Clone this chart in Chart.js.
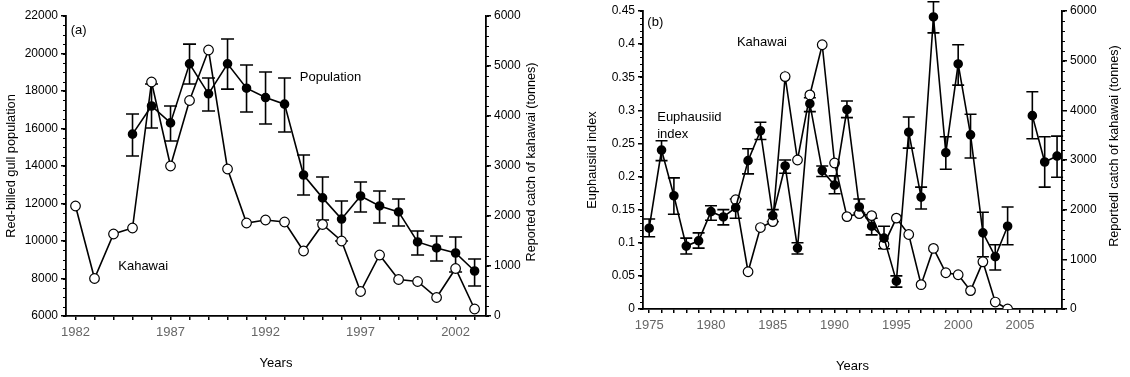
<!DOCTYPE html>
<html>
<head>
<meta charset="utf-8">
<script src="https://cdn.jsdelivr.net/npm/chart.js@4.4.1/dist/chart.umd.min.js"></script>
<style>
body{margin:0;background:#fff;}
#wrap{position:relative;width:1130px;height:377px;}
canvas{position:absolute;top:0;}
#chartA{left:0;}
#chartB{left:565px;}
</style>
</head>
<body>
<div id="wrap">
<canvas id="chartA" width="565" height="377"></canvas>
<canvas id="chartB" width="565" height="377"></canvas>
</div>
<script>
// panel (a): gull population with error bars + kahawai catch
const popYears = [1985,1986,1987,1988,1989,1990,1991,1992,1993,1994,1995,1996,1997,1998,1999,2000,2001,2002,2003];
const popValues = [15700,17200,16300,19450,17850,19450,18150,17650,17300,13520,12300,11170,12400,11870,11550,9950,9630,9360,8400];
const popHigh = [16770,18370,17200,20500,18690,20770,19390,19010,18690,14590,13410,12130,13150,12670,12240,10530,10270,10210,9040];
const popLow = [14530,16030,15330,18370,16930,18100,16880,16240,15810,12450,11120,10000,11550,10960,10800,9250,8930,8350,7600];

// kahawai catch (tonnes), shared by both panels
const kahawaiYears = [1982,1983,1984,1985,1986,1987,1988,1989,1990,1991,1992,1993,1994,1995,1996,1997,1998,1999,2000,2001,2002,2003,2004];
const kahawaiCatch = [2200,750,1640,1760,4680,3000,4310,5320,2940,1860,1920,1880,1300,1830,1500,490,1220,730,690,370,950,140,0];

// panel (b): euphausiid index with error bars
const euphYears = [1975,1976,1977,1978,1979,1980,1981,1982,1983,1984,1985,1986,1987,1988,1989,1990,1991,1992,1993,1994,1995,1996,1997,1998,1999,2000,2001,2002,2003,2004,2005,2006,2007,2008];
const euphIndex = [0.122,0.240,0.171,0.095,0.103,0.147,0.139,0.153,0.224,0.269,0.141,0.216,0.092,0.310,0.209,0.187,0.301,0.154,0.125,0.107,0.042,0.267,0.169,0.441,0.236,0.370,0.263,0.115,0.079,0.125,null,0.292,0.222,0.231];
const euphHigh = [0.136,0.254,0.198,0.107,0.115,0.156,0.150,0.166,0.242,0.282,0.150,0.225,0.100,0.319,0.216,0.201,0.314,0.166,0.137,0.125,0.050,0.290,0.184,0.464,0.260,0.399,0.294,0.146,0.097,0.154,null,0.328,0.260,0.261];
const euphLow = [0.109,0.224,0.143,0.083,0.092,0.134,0.127,0.137,0.204,0.256,0.132,0.205,0.083,0.298,0.200,0.174,0.289,0.145,0.112,0.091,0.033,0.243,0.151,0.417,0.211,0.338,0.228,0.079,0.059,0.097,null,0.257,0.184,0.199];

Chart.defaults.font.family = '"Liberation Sans", Arial, sans-serif';
Chart.defaults.color = '#000';

function toPoints(xs, ys){
    return xs.map((x,i) => ({x:x, y:ys[i]}));
}

// vertical error bars with caps, drawn under the lines
const errorBarPlugin = {
    id:'errorBars',
    beforeDatasetsDraw(chart){
        let ctx = chart.ctx;
        chart.data.datasets.forEach((ds,i) => {
            if(!ds.errLow){
                return;
            }
            let meta = chart.getDatasetMeta(i);
            let xs = chart.scales[meta.xAxisID];
            let ys = chart.scales[meta.yAxisID];
            let cap = ds.capHalf || 6;
            ctx.save();
            ctx.strokeStyle = '#000';
            ctx.lineWidth = 1.6;
            ds.data.forEach((pt,j) => {
                if(pt.y == null || ds.errLow[j] == null){
                    return;
                }
                let px = xs.getPixelForValue(pt.x);
                let top = ys.getPixelForValue(ds.errHigh[j]);
                let bot = ys.getPixelForValue(ds.errLow[j]);
                ctx.beginPath();
                ctx.moveTo(px,top); ctx.lineTo(px,bot);
                ctx.moveTo(px-cap,top); ctx.lineTo(px+cap,top);
                ctx.moveTo(px-cap,bot); ctx.lineTo(px+cap,bot);
                ctx.stroke();
            });
            ctx.restore();
        });
    }
};

function makeMinorTicks(list){
    return {
        id:'minorTicks',
        afterDraw(chart){
            let ctx = chart.ctx;
            ctx.save();
            ctx.strokeStyle = '#000';
            ctx.lineWidth = 1;
            for(let [id,step] of list){
                let s = chart.scales[id];
                let n = Math.round((s.max - s.min)/step);
                for(let k=0;k<=n;k++){
                    let py = Math.round(s.getPixelForValue(s.min + k*step)) + 0.5;
                    let x0 = s.position == 'left' ? s.right : s.left;
                    let dir = s.position == 'left' ? -1 : 1;
                    ctx.beginPath();
                    ctx.moveTo(x0,py);
                    ctx.lineTo(x0+dir*3,py);
                    ctx.stroke();
                }
            }
            ctx.restore();
        }
    };
}

// free text labels anchored to data coordinates, plus the right axis title
function makeLabels(list, rightTitle){
    return {
        id:'labels',
        afterDraw(chart){
            let ctx = chart.ctx;
            ctx.save();
            ctx.fillStyle = '#000';
            ctx.font = '13px "Liberation Sans", Arial, sans-serif';
            ctx.textBaseline = 'middle';
            ctx.textAlign = 'left';
            for(let lb of list){
                let px = chart.scales.x.getPixelForValue(lb.x);
                let py = chart.scales[lb.axis].getPixelForValue(lb.y);
                ctx.fillText(lb.text, px, py);
            }
            let s = chart.scales.y2;
            ctx.font = '12.6px "Liberation Sans", Arial, sans-serif';
            ctx.textAlign = 'center';
            ctx.translate(s.left + rightTitle.dx, (s.top + s.bottom)/2 + rightTitle.dy);
            ctx.rotate(-Math.PI/2);
            ctx.fillText(rightTitle.text, 0, 0);
            ctx.restore();
        }
    };
}

function axisX(min, max, first, fitH, titlePad){
    return {
        type:'linear', position:'bottom', min:min, max:max,
        afterFit: s => { s.height = fitH; },
        ticks:{
            stepSize:1, autoSkip:false, includeBounds:false, maxRotation:0, padding:5,
            color:'#666', font:{size:13},
            callback: v => ((v-first)%5 === 0 ? String(v) : '')
        },
        grid:{drawOnChartArea:false, color:'#000', tickLength:4, lineWidth:1.5},
        border:{color:'#000', width:1.8},
        title:{display:true, text:'Years', font:{size:13}, color:'#000', padding:{top:0, bottom:titlePad}}
    };
}

function axisY(pos, min, max, step, fitW, fmt, title, titlePad){
    let ax = {
        type:'linear', position:pos, min:min, max:max,
        afterFit: s => { s.width = fitW; },
        ticks:{stepSize:step, color:'#000', font:{size:12}, padding:3, callback:fmt},
        grid:{drawOnChartArea:false, color:'#000', tickLength:5, lineWidth:1.5},
        border:{color:'#000', width:1.8}
    };
    if(title){
        ax.title = {display:true, text:title, font:{size:12.8}, color:'#000', padding:{top:titlePad, bottom:0}};
    }
    return ax;
}

const plainNum = v => String(Math.round(v*100)/100);

function drawPanel(canvasId, datasets, scales, padTop, extraPlugins){
    let ctx = document.getElementById(canvasId).getContext('2d');
    return new Chart(ctx, {
        type:'line',
        data:{datasets:datasets},
        options:{
            responsive:false,
            animation:false,
            layout:{padding:{top:padTop, left:0, right:0, bottom:0}},
            scales:scales,
            plugins:{legend:{display:false}, tooltip:{enabled:false}}
        },
        plugins:[errorBarPlugin].concat(extraPlugins)
    });
}

// ---- panel (a)
drawPanel('chartA', [
    {
        label:'Population', data:toPoints(popYears, popValues), yAxisID:'y',
        borderColor:'#000', borderWidth:1.6, tension:0,
        pointRadius:4, pointBackgroundColor:'#000', pointBorderColor:'#000',
        errLow:popLow, errHigh:popHigh, capHalf:6.5
    },
    {
        label:'Kahawai', data:toPoints(kahawaiYears.slice(0,22), kahawaiCatch.slice(0,22)), yAxisID:'y2',
        borderColor:'#000', borderWidth:1.6, tension:0,
        pointRadius:4.8, pointBackgroundColor:'#fff', pointBorderColor:'#000', pointBorderWidth:1.2
    }
], {
    x: axisX(1981.5, 2003.6, 1982, 61, 6),
    y: axisY('left', 6000, 22000, 2000, 66, plainNum, 'Red-billed gull population', 4),
    y2: axisY('right', 0, 6000, 1000, 79, plainNum, null, 0)
}, 16, [
    makeMinorTicks([['y',500],['y2',200]]),
    makeLabels([
        {text:'(a)', x:1981.75, y:21250, axis:'y'},
        {text:'Population', x:1993.8, y:18700, axis:'y'},
        {text:'Kahawai', x:1984.25, y:8650, axis:'y'}
    ], {text:'Reported catch of kahawai (tonnes)', dx:46, dy:-4})
]);

// ---- panel (b)
drawPanel('chartB', [
    {
        label:'Euphausiid index', data:toPoints(euphYears, euphIndex), yAxisID:'y',
        borderColor:'#000', borderWidth:1.6, tension:0, spanGaps:false,
        pointRadius:4, pointBackgroundColor:'#000', pointBorderColor:'#000',
        errLow:euphLow, errHigh:euphHigh, capHalf:6
    },
    {
        label:'Kahawai', data:toPoints(kahawaiYears, kahawaiCatch), yAxisID:'y2',
        borderColor:'#000', borderWidth:1.6, tension:0,
        pointRadius:4.8, pointBackgroundColor:'#fff', pointBorderColor:'#000', pointBorderWidth:1.2
    }
], {
    x: axisX(1974.5, 2008.4, 1975, 68, 3),
    y: axisY('left', 0, 0.45, 0.05, 78, plainNum, 'Euphausiid index', 20),
    y2: axisY('right', 0, 6000, 1000, 68, plainNum, null, 0)
}, 11, [
    makeMinorTicks([['y',0.01],['y2',200]]),
    makeLabels([
        {text:'(b)', x:1974.85, y:0.433, axis:'y'},
        {text:'Kahawai', x:1982.1, y:0.402, axis:'y'},
        {text:'Euphausiid', x:1975.65, y:0.290, axis:'y'},
        {text:'index', x:1975.65, y:0.263, axis:'y'}
    ], {text:'Reportedl catch of kahawai (tonnes)', dx:53, dy:-14})
]);
</script>
</body>
</html>
